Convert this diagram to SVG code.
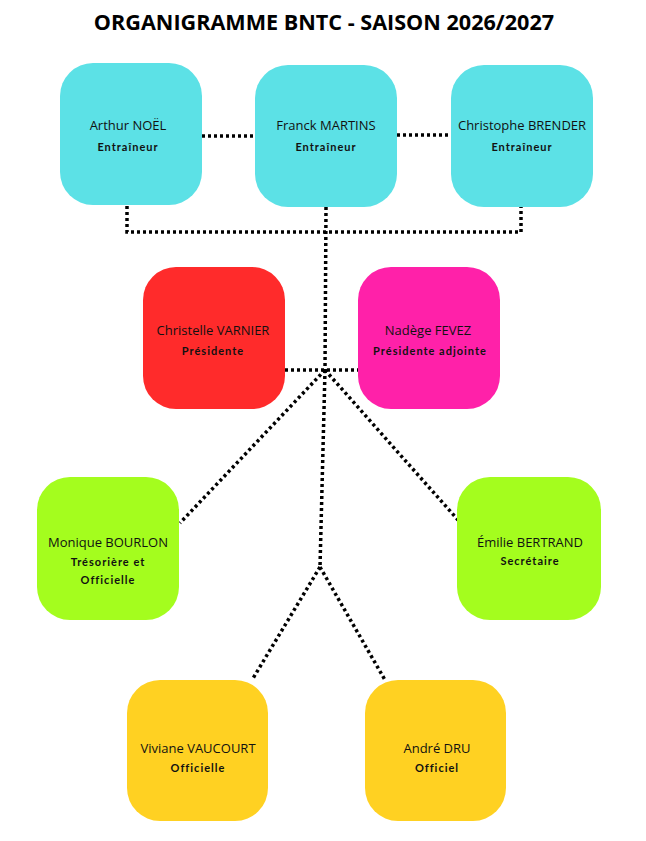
<svg xmlns="http://www.w3.org/2000/svg" width="646" height="841" viewBox="0 0 646 841">
<style>
.title{font-family:"Open Sans","Liberation Sans",sans-serif;font-weight:700;font-size:21.6px;fill:#000;text-anchor:middle}
.name{font-family:"Open Sans","Liberation Sans",sans-serif;font-size:13px;fill:#111;text-anchor:middle}
.role{font-family:Lato,"DejaVu Sans",sans-serif;font-weight:700;font-size:11px;letter-spacing:1px;fill:#111;text-anchor:middle}
.cyan{fill:#5CE1E6}.red{fill:#FF2B2B}.pink{fill:#FF21A9}.green{fill:#A4FD1E}.yellow{fill:#FFD122}
.conn{fill:none;stroke:#000;stroke-width:3.5;stroke-dasharray:3 3}
</style>
<rect width="646" height="841" fill="#fff"/>
<text class="title" x="324" y="30">ORGANIGRAMME BNTC - SAISON 2026/2027</text>
<g id="connectors">
<line class="conn" x1="202" y1="136" x2="255" y2="136"/>
<line class="conn" x1="397" y1="135" x2="451" y2="135"/>
<polyline class="conn" points="127,206 127,232 521,232 521,207"/>
<line class="conn" x1="326" y1="207" x2="325" y2="370"/>
<line class="conn" x1="285" y1="370" x2="358" y2="370"/>
<line class="conn" x1="325" y1="370" x2="180" y2="523"/>
<line class="conn" x1="325" y1="370" x2="458" y2="520"/>
<line class="conn" x1="325" y1="370" x2="320" y2="567"/>
<line class="conn" x1="320" y1="567" x2="252" y2="680"/>
<line class="conn" x1="320" y1="567" x2="385" y2="680"/>
</g>
<g id="arthur">
<rect class="cyan" x="60" y="63" width="142" height="142" rx="33"/>
<text class="name" x="128" y="130">Arthur NOËL</text>
<text class="role" x="128" y="151">Entraîneur</text>
</g>
<g id="franck">
<rect class="cyan" x="255" y="65" width="142" height="142" rx="33"/>
<text class="name" x="326" y="130">Franck MARTINS</text>
<text class="role" x="326" y="151">Entraîneur</text>
</g>
<g id="christophe">
<rect class="cyan" x="451" y="65" width="142" height="142" rx="33"/>
<text class="name" x="522" y="130">Christophe BRENDER</text>
<text class="role" x="522" y="151">Entraîneur</text>
</g>
<g id="christelle">
<rect class="red" x="143" y="267" width="142" height="142" rx="33"/>
<text class="name" x="213" y="335">Christelle VARNIER</text>
<text class="role" x="213" y="355">Présidente</text>
</g>
<g id="nadege">
<rect class="pink" x="358" y="267" width="142" height="142" rx="33"/>
<text class="name" x="428" y="335">Nadège FEVEZ</text>
<text class="role" x="430" y="355">Présidente adjointe</text>
</g>
<g id="monique">
<rect class="green" x="37" y="477" width="142" height="143" rx="33"/>
<text class="name" x="108" y="547">Monique BOURLON</text>
<text class="role" x="108" y="566">Trésorière et</text>
<text class="role" x="108" y="584">Officielle</text>
</g>
<g id="emilie">
<rect class="green" x="457" y="477" width="144" height="143" rx="33"/>
<text class="name" x="530" y="547">Émilie BERTRAND</text>
<text class="role" x="530" y="565">Secrétaire</text>
</g>
<g id="viviane">
<rect class="yellow" x="127" y="680" width="141" height="141" rx="33"/>
<text class="name" x="198" y="753">Viviane VAUCOURT</text>
<text class="role" x="198" y="772">Officielle</text>
</g>
<g id="andre">
<rect class="yellow" x="365" y="680" width="141" height="141" rx="33"/>
<text class="name" x="437" y="753">André DRU</text>
<text class="role" x="437" y="772">Officiel</text>
</g>
</svg>
